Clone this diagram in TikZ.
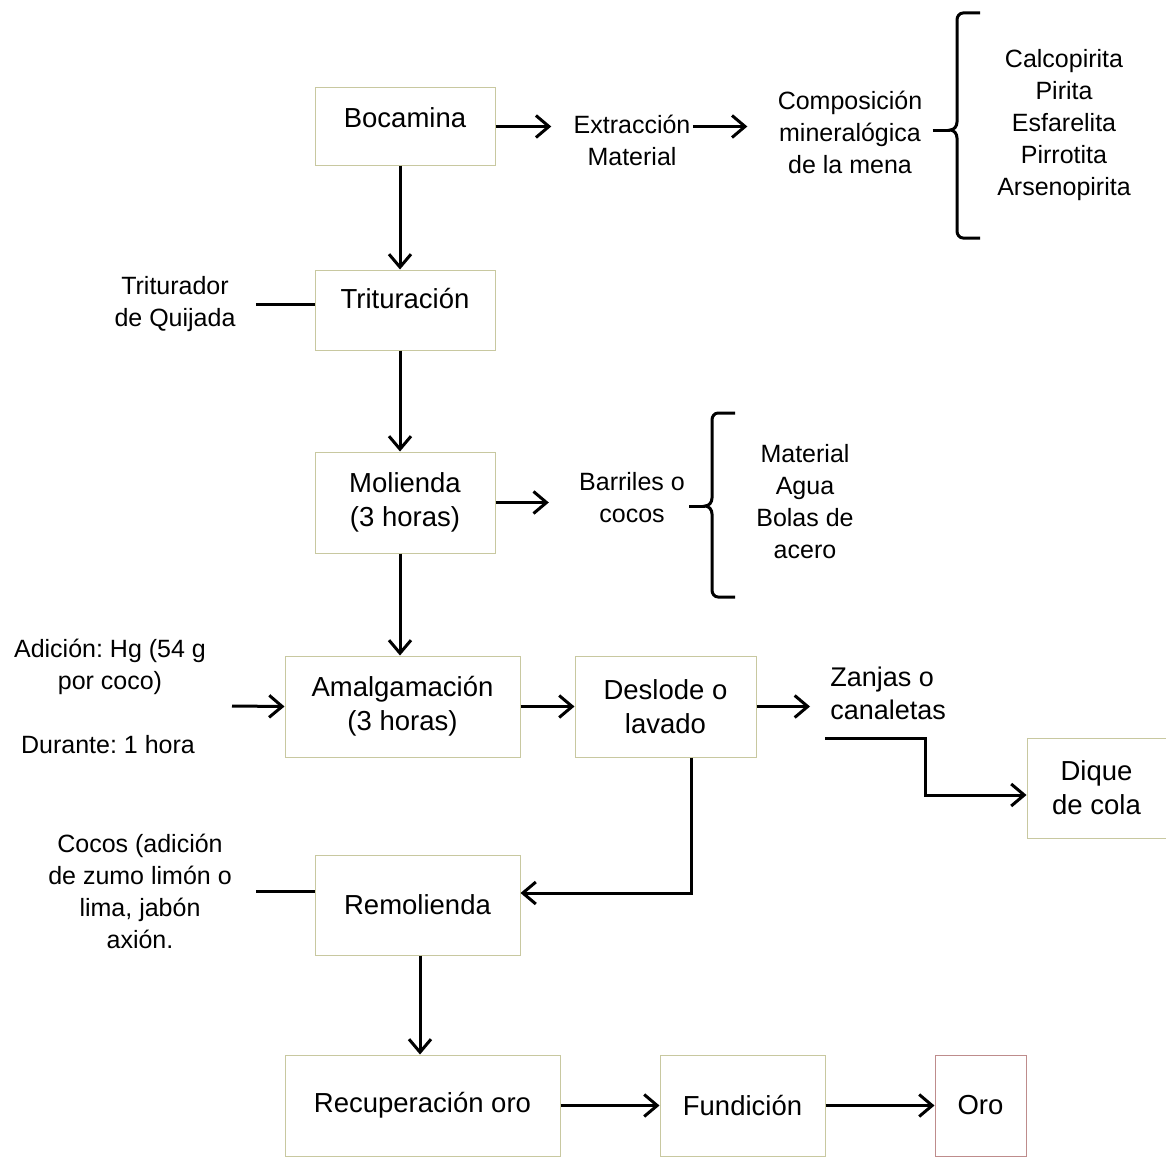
\documentclass[tikz,border=0pt]{standalone}
\usepackage{fontspec}
\setmainfont{Liberation Sans}
\frenchspacing
\usetikzlibrary{arrows.meta}
\definecolor{boxline}{RGB}{200,200,160}
\definecolor{oroline}{RGB}{190,140,140}

\begin{document}
\begin{tikzpicture}
[x=0.5pt, y=-0.5pt,
 every node/.style={inner sep=0pt, align=center, font=\fontsize{12.5pt}{16pt}\selectfont},
 box/.style={draw=boxline, line width=0.5pt, rectangle, font=\fontsize{13.75pt}{17pt}\selectfont},
 flow/.style={line width=1.5pt, -{Straight Barb[length=6.5pt,width=11pt]}},
 plain/.style={line width=1.5pt}]
\useasboundingbox (0,0) rectangle (1166,1156);
% process boxes
\node (bocamina) [box, minimum width=90pt, minimum height=38.5pt] at (405,126.5) {\raisebox{4.5pt}[\height][\depth]{Bocamina}};
\node (trituracion) [box, minimum width=90pt, minimum height=40pt] at (405,310) {\raisebox{5.5pt}[\height][\depth]{Trituración}};
\node (molienda) [box, minimum width=90pt, minimum height=50.5pt] at (405,502.5) {Molienda\\(3 horas)};
\node (amalgamacion) [box, minimum width=117.5pt, minimum height=50.5pt] at (402.5,706.5) {Amalgamación\\(3 horas)};
\node (deslode) [box, minimum width=90.5pt, minimum height=50.5pt] at (665.5,706.5) {Deslode o\\lavado};
\node (dique) [box, minimum width=69.5pt, minimum height=50pt] at (1096.5,788) {Dique\\de cola};
\node (remolienda) [box, minimum width=102.5pt, minimum height=50pt] at (417.5,905) {Remolienda};
\node (recuperacion) [box, minimum width=137.5pt, minimum height=50.5pt] at (422.5,1105.5) {Recuperación oro};
\node (fundicion) [box, minimum width=82.5pt, minimum height=50.5pt] at (742.5,1105.5) {Fundición};
\node (oro) [box, draw=oroline, minimum width=45.5pt, minimum height=50.5pt] at (980.5,1105.5) {Oro};
% side texts
\node (extraccion) at (632,140) {Extracción\\Material};
\node (composicion) at (850,132) {Composición\\mineralógica\\de la mena};
\node (minerales) at (1064,125) {Calcopirita\\Pirita\\Esfarelita\\Pirrotita\\Arsenopirita};
\node (quijada) at (175,304) {Triturador\\de Quijada};
\node (barriles) at (632,498) {Barriles o\\cocos};
\node (componentes) at (805,502) {Material\\Agua\\Bolas de\\acero};
\node (adicion) at (110,667) {Adición: Hg (54 g\\por coco)};
\node (durante) at (108,745) {Durante: 1 hora};
\node (zanjas) [anchor=west, align=left, font=\fontsize{13.5pt}{16.5pt}\selectfont] at (830,693) {Zanjas o\\canaletas};
\node (cocos) at (140,891) {Cocos (adición\\de zumo limón o\\lima, jabón\\axión.};
\coordinate (llave1) at (950,130);
\coordinate (llave2) at (705,506);
\coordinate (hg) at (232,706);
\coordinate (canal) at (825,738);
% braces
\draw [plain] (980,13) -- (963,13) to[out=180,in=90] (957,20) -- (957,122) to[out=270,in=0] (llave1)
  to[out=0,in=90] (957,138) -- (957,231) to[out=270,in=180] (963,238) -- (980,238);
\draw [plain] (735,413) -- (718,413) to[out=180,in=90] (712,420) -- (712,498) to[out=270,in=0] (llave2)
  to[out=0,in=90] (712,514) -- (712,590) to[out=270,in=180] (718,597) -- (735,597);
% connectors
\draw [flow, shorten >=11pt] (bocamina.east) -- (bocamina.east -| extraccion.west);
\draw [flow, shorten <=1pt, shorten >=15pt] (bocamina.east -| extraccion.east) -- (bocamina.east -| composicion.west);
\draw [plain, shorten <=5pt] (composicion.east |- llave1) -- (llave1);
\draw [flow] ([xshift=-2.5pt]bocamina.south) -- ([xshift=-2.5pt]trituracion.north);
\draw [plain] ([xshift=10pt]quijada.east) -- (quijada.east -| trituracion.west);
\draw [flow] ([xshift=-2.5pt]trituracion.south) -- ([xshift=-2.5pt]molienda.north);
\draw [flow, shorten >=15pt] (molienda.east) -- (molienda.east -| barriles.west);
\draw [plain, shorten <=2pt] (barriles.east |- llave2) -- (llave2);
\draw [flow] ([xshift=-2.5pt]molienda.south) -- ([xshift=-2.5pt]molienda.south |- amalgamacion.north);
\draw [flow] (hg) -- (amalgamacion.west);
\draw [flow] (amalgamacion) -- (deslode);
\draw [flow, shorten >=10pt] (deslode.east) -- (deslode.east -| zanjas.west);
\draw [flow] (canal) -- ++(100,0) |- ([yshift=-3.5pt]dique.west);
\draw [flow] ([xshift=13pt]deslode.south) |- ([yshift=6pt]remolienda.east);
\draw [plain] ([xshift=12pt]cocos.east) -- (cocos.east -| remolienda.west);
\draw [flow] ([xshift=1.25pt]remolienda.south) -- ([xshift=1.25pt]remolienda.south |- recuperacion.north);
\draw [flow] (recuperacion) -- (fundicion);
\draw [flow] (fundicion) -- (oro);
\end{tikzpicture}
\end{document}
